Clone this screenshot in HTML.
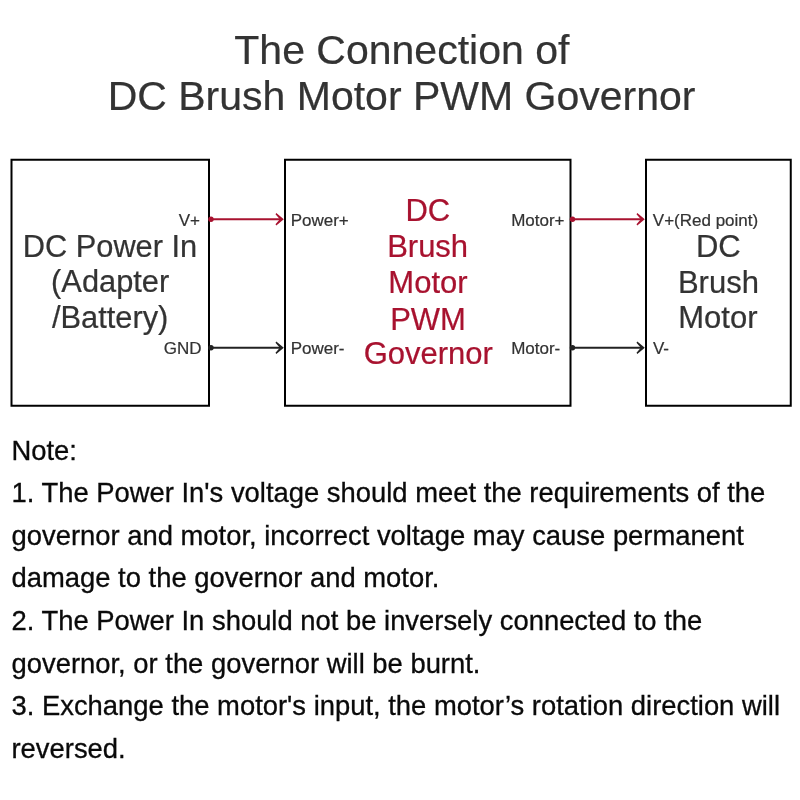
<!DOCTYPE html>
<html><head><meta charset="utf-8">
<style>
html,body{margin:0;padding:0;background:#fff;width:800px;height:800px;overflow:hidden;}
svg{display:block;will-change:transform;}
text{font-family:"Liberation Sans", sans-serif;}
.n{stroke:#0a0a0a;stroke-width:0.3px;}
</style></head>
<body>
<svg width="800" height="800" viewBox="0 0 800 800">
<rect x="0" y="0" width="800" height="800" fill="#fff"/>
<text x="234.30" y="64.00" font-size="41" fill="#333333" stroke="#333333" stroke-width="0.22">The Connection of</text>
<text x="107.65" y="110.00" font-size="41" fill="#333333" stroke="#333333" stroke-width="0.22">DC Brush Motor PWM Governor</text>
<g fill="none" stroke="#000" stroke-width="2"><rect x="11.5" y="159.75" width="197.5" height="246"/><rect x="285" y="159.75" width="285.5" height="246"/><rect x="646" y="159.75" width="144.75" height="246"/></g>
<text x="22.68" y="257.00" font-size="30.8" fill="#333333" stroke="#333333" stroke-width="0.22">DC Power In</text>
<text x="51.10" y="292.40" font-size="30.8" fill="#333333" stroke="#333333" stroke-width="0.22">(Adapter</text>
<text x="52.01" y="328.25" font-size="30.8" fill="#333333" stroke="#333333" stroke-width="0.22">/Battery)</text>
<text x="178.70" y="225.80" font-size="17" fill="#333333" stroke="#333333" stroke-width="0.22">V+</text>
<text x="163.75" y="353.80" font-size="17" fill="#333333" stroke="#333333" stroke-width="0.22">GND</text>
<text x="290.64" y="225.80" font-size="17" fill="#333333" stroke="#333333" stroke-width="0.22">Power+</text>
<text x="290.64" y="353.80" font-size="17" fill="#333333" stroke="#333333" stroke-width="0.22">Power-</text>
<text x="511.14" y="225.80" font-size="17" fill="#333333" stroke="#333333" stroke-width="0.22">Motor+</text>
<text x="511.14" y="353.80" font-size="17" fill="#333333" stroke="#333333" stroke-width="0.22">Motor-</text>
<text x="652.83" y="225.80" font-size="17" fill="#333333" stroke="#333333" stroke-width="0.22">V+(Red point)</text>
<text x="652.93" y="353.80" font-size="17" fill="#333333" stroke="#333333" stroke-width="0.22">V-</text>
<text x="405.46" y="221.20" font-size="31" fill="#a8122f" stroke="#a8122f" stroke-width="0.22">DC</text>
<text x="387.13" y="257.40" font-size="31" fill="#a8122f" stroke="#a8122f" stroke-width="0.22">Brush</text>
<text x="388.34" y="293.25" font-size="31" fill="#a8122f" stroke="#a8122f" stroke-width="0.22">Motor</text>
<text x="390.13" y="329.50" font-size="31" fill="#a8122f" stroke="#a8122f" stroke-width="0.22">PWM</text>
<text x="363.65" y="364.00" font-size="31" fill="#a8122f" stroke="#a8122f" stroke-width="0.22">Governor</text>
<text x="695.96" y="257.25" font-size="31" fill="#333333" stroke="#333333" stroke-width="0.22">DC</text>
<text x="677.94" y="293.25" font-size="31" fill="#333333" stroke="#333333" stroke-width="0.22">Brush</text>
<text x="678.29" y="328.10" font-size="31" fill="#333333" stroke="#333333" stroke-width="0.22">Motor</text>
<line x1="209" y1="219.25" x2="281.3" y2="219.25" stroke="#a8122f" stroke-width="2"/><path d="M276.3 213.05 L283.8 219.25 L276.3 225.45 L275.5 224.25 L279.8 219.25 L275.5 214.25 Z" fill="#a8122f"/><circle cx="211" cy="219.25" r="2.7" fill="#a8122f"/>
<line x1="209" y1="347.7" x2="281.3" y2="347.7" stroke="#222" stroke-width="2"/><path d="M276.3 341.5 L283.8 347.7 L276.3 353.9 L275.5 352.7 L279.8 347.7 L275.5 342.7 Z" fill="#222"/><circle cx="211" cy="347.7" r="2.7" fill="#222"/>
<line x1="570.5" y1="219.25" x2="642.3" y2="219.25" stroke="#a8122f" stroke-width="2"/><path d="M637.3 213.05 L644.8 219.25 L637.3 225.45 L636.5 224.25 L640.8 219.25 L636.5 214.25 Z" fill="#a8122f"/><circle cx="572.5" cy="219.25" r="2.7" fill="#a8122f"/>
<line x1="570.5" y1="347.7" x2="642.3" y2="347.7" stroke="#222" stroke-width="2"/><path d="M637.3 341.5 L644.8 347.7 L637.3 353.9 L636.5 352.7 L640.8 347.7 L636.5 342.7 Z" fill="#222"/><circle cx="572.5" cy="347.7" r="2.7" fill="#222"/>
<text x="11.50" y="459.60" font-size="27.4" fill="#0a0a0a" stroke="#0a0a0a" stroke-width="0.3">Note:</text>
<text x="11.50" y="502.23" font-size="27.4" fill="#0a0a0a" stroke="#0a0a0a" stroke-width="0.3">1. The Power In&#39;s voltage should meet the requirements of the</text>
<text x="11.50" y="544.86" font-size="27.4" fill="#0a0a0a" stroke="#0a0a0a" stroke-width="0.3">governor and motor, incorrect voltage may cause permanent</text>
<text x="11.50" y="587.49" font-size="27.4" fill="#0a0a0a" stroke="#0a0a0a" stroke-width="0.3">damage to the governor and motor.</text>
<text x="11.50" y="630.12" font-size="27.4" fill="#0a0a0a" stroke="#0a0a0a" stroke-width="0.3">2. The Power In should not be inversely connected to the</text>
<text x="11.50" y="672.75" font-size="27.4" fill="#0a0a0a" stroke="#0a0a0a" stroke-width="0.3">governor, or the governor will be burnt.</text>
<text x="11.50" y="715.38" font-size="27.4" fill="#0a0a0a" stroke="#0a0a0a" stroke-width="0.3">3. Exchange the motor&#39;s input, the motor’s rotation direction will</text>
<text x="11.50" y="758.01" font-size="27.4" fill="#0a0a0a" stroke="#0a0a0a" stroke-width="0.3">reversed.</text>
</svg>
</body></html>
